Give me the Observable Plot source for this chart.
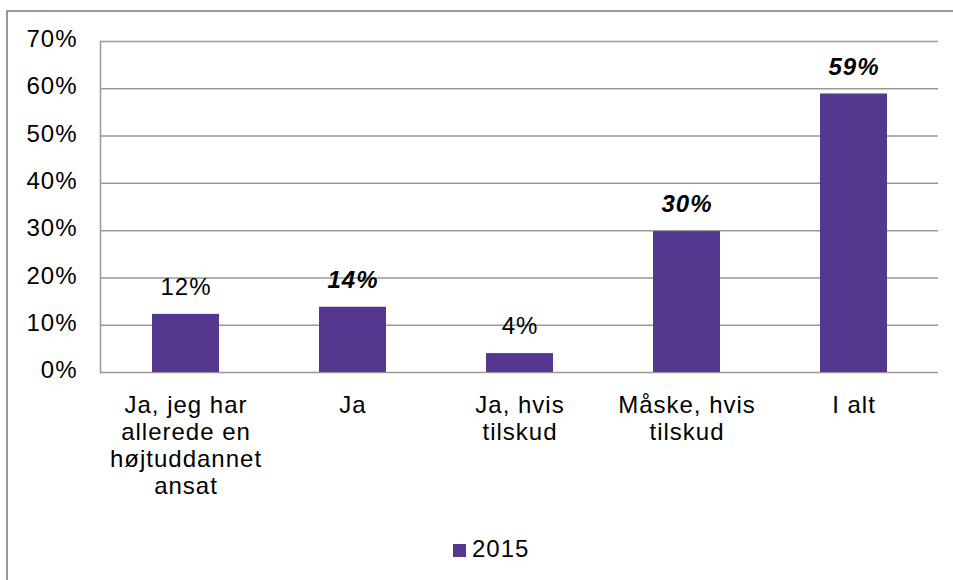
<!DOCTYPE html>
<html><head><meta charset="utf-8">
<script src="https://cdn.jsdelivr.net/npm/d3@7"></script>
<script src="https://cdn.jsdelivr.net/npm/@observablehq/plot@0.6"></script>
<style>
html,body{margin:0;padding:0;background:#fff;overflow:hidden;}
#wrap{position:relative;width:953px;height:580px;font-family:"Liberation Sans",Arial,sans-serif;}
#frame{position:absolute;left:6px;top:10px;width:1000px;height:1000px;border-left:2px solid #999;border-top:2px solid #999;}
#chart{position:absolute;left:0;top:0;}
#legend{position:absolute;left:453px;top:535px;display:flex;align-items:center;font-size:24px;letter-spacing:1px;color:#000;}
#legend .sw{width:13px;height:13px;margin-right:6px;margin-top:2px;}
</style></head>
<body>
<div id="wrap"><div id="frame"></div><div id="chart"></div><div id="legend"></div></div>
<script>
const categories = ["Ja, jeg har\nallerede en\nhøjtuddannet\nansat", "Ja", "Ja, hvis\ntilskud", "Måske, hvis\ntilskud", "I alt"];
const values = [0.123, 0.138, 0.040, 0.298, 0.589];
const emphasized = [false, true, false, true, true];
const yTicks = [0, 0.1, 0.2, 0.3, 0.4, 0.5, 0.6, 0.7];
const seriesName = "2015";
const barColor = "#56378f";

const data = categories.map((c, i) => ({
  category: c,
  value: values[i],
  label: Math.round(values[i] * 100) + "%",
  em: emphasized[i]
}));

const chart = Plot.plot({
  width: 953,
  height: 520,
  marginLeft: 100,
  marginRight: 15,
  marginTop: 41,
  marginBottom: 148,
  style: {fontFamily: "'Liberation Sans', Arial, sans-serif", fontSize: "24px", letterSpacing: "1px", color: "#000", background: "transparent", overflow: "visible"},
  x: {domain: categories, paddingInner: 0.6, paddingOuter: 0.3},
  y: {domain: [0, 0.7]},
  marks: [
    Plot.ruleY(yTicks, {stroke: "#999", strokeWidth: 1.5}),
    Plot.frame({anchor: "left", stroke: "#999", strokeWidth: 1.5}),
    Plot.barY(data, {x: "category", y: "value", fill: barColor}),
    Plot.text(data.filter(d => !d.em), {x: "category", y: "value", text: "label", dy: -27, fontSize: 24, fill: "#000"}),
    Plot.text(data.filter(d => d.em), {x: "category", y: "value", text: "label", dy: -27, fontSize: 24, fontWeight: "bold", fontStyle: "italic", fill: "#000"}),
    Plot.axisY({ticks: yTicks, tickFormat: d3.format(".0%"), tickSize: 0, tickPadding: 23, fontSize: 24, dy: -2, label: null}),
    Plot.axisX({tickSize: 0, tickPadding: 21, lineAnchor: "top", lineHeight: 1.125, fontSize: 24, label: null})
  ]
});
document.getElementById("chart").appendChild(chart);

const legend = document.getElementById("legend");
const sw = document.createElement("div");
sw.className = "sw";
sw.style.background = barColor;
legend.appendChild(sw);
const lt = document.createElement("span");
lt.textContent = seriesName;
legend.appendChild(lt);
</script>
</body></html>
